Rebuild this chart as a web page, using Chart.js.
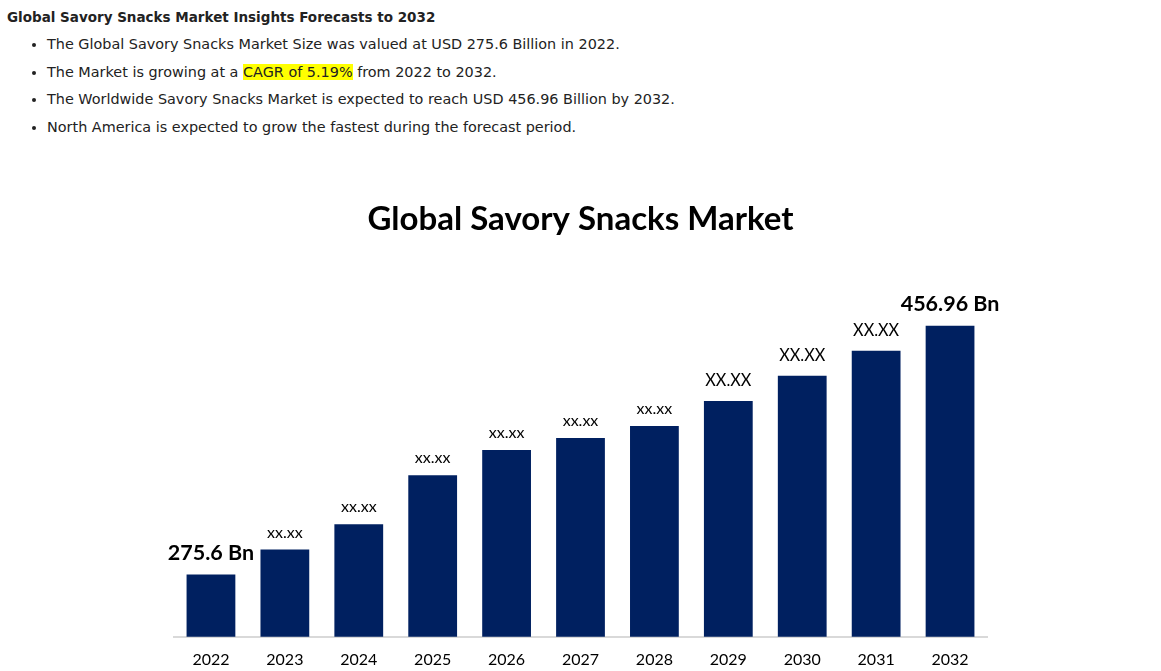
<!DOCTYPE html>
<html>
<head>
<meta charset="utf-8">
<script src="https://cdn.jsdelivr.net/npm/chart.js@4.4.0/dist/chart.umd.min.js"></script>
<style>
    body {
        margin: 0;
        background: #fff;
        font-family: "DejaVu Sans", sans-serif;
        color: #222;
        overflow: hidden;
    }
    .intro {
        position: absolute;
        left: 7px;
        top: 8px;
    }
    .intro h4 {
        margin: 0;
        font-size: 13.5px;
        font-weight: bold;
        line-height: 18px;
    }
    .intro ul {
        margin: 5px 0 0 0;
        padding-left: 40px;
        font-size: 14.4px;
    }
    .intro li {
        line-height: 27.5px;
    }
    .hl {
        background: #ffff00;
    }
    #wrap {
        position: absolute;
        left: 0;
        top: 180px;
        width: 1161px;
        height: 505px;
    }
</style>
</head>
<body>
<div class="intro">
    <h4>Global Savory Snacks Market Insights Forecasts to 2032</h4>
    <ul>
        <li>The Global Savory Snacks Market Size was valued at USD 275.6 Billion in 2022.</li>
        <li>The Market is growing at a <span class="hl">CAGR of 5.19%</span> from 2022 to 2032.</li>
        <li>The Worldwide Savory Snacks Market is expected to reach USD 456.96 Billion by 2032.</li>
        <li>North America is expected to grow the fastest during the forecast period.</li>
    </ul>
</div>
<div id="wrap"><canvas id="myChart"></canvas></div>
<script>
// market size, USD billion (only first and last are given, the rest)
const years = ['2022', '2023', '2024', '2025', '2026', '2027', '2028', '2029', '2030', '2031', '2032'];
const marketSize = [275.6, 293.9, 312.2, 348.0, 366.3, 375.1, 383.8, 402.1, 420.4, 438.7, 456.96];
const barLabels = ['275.6 Bn', 'xx.xx', 'xx.xx', 'xx.xx', 'xx.xx', 'xx.xx', 'xx.xx', 'XX.XX', 'XX.XX', 'XX.XX', '456.96 Bn'];

// draws the text above each bar
const barLabelPlugin = {
    id: 'barLabels',
    afterDatasetsDraw(chart) {
        const ctx = chart.ctx;
        const meta = chart.getDatasetMeta(0);
        ctx.save();
        ctx.fillStyle = '#000';
        ctx.textAlign = 'center';
        ctx.textBaseline = 'bottom';
        meta.data.forEach((bar, i) => {
            let txt = barLabels[i];
            let gap = 9;
            if (txt.endsWith('Bn')) {
                ctx.font = 'bold 21.5px Lato';
                gap = 11;
            } else if (txt === txt.toUpperCase()) {
                ctx.font = '16.3px Lato';
                gap = 12;
            } else {
                ctx.font = '16px Lato';
            }
            ctx.fillText(txt, bar.x, bar.y - gap);
        });
        ctx.restore();
    }
};

const ctx = document.getElementById('myChart').getContext('2d');
const myChart = new Chart(ctx, {
    type: 'bar',
    data: {
        labels: years,
        datasets: [{
            data: marketSize,
            backgroundColor: '#002060',
            borderWidth: 0,
            categoryPercentage: 1,
            barPercentage: 0.66
        }]
    },
    options: {
        responsive: true,
        maintainAspectRatio: false,
        animation: false,
        layout: {
            padding: {
                left: 174,
                right: 174,
                top: 0,
                bottom: 3
            }
        },
        plugins: {
            legend: { display: false },
            tooltip: { enabled: false },
            title: {
                display: true,
                text: 'Global Savory Snacks Market',
                color: '#000',
                font: { family: 'Lato', size: 33, weight: 'bold' },
                padding: { top: 20, bottom: 27 }
            }
        },
        scales: {
            x: {
                grid: { display: false, drawTicks: false },
                border: { display: true, color: '#d9d9d9', width: 2 },
                ticks: {
                    color: '#000',
                    font: { family: 'Lato', size: 16 },
                    padding: 13
                }
            },
            y: {
                display: false,
                min: 230.26,
                max: 500
            }
        }
    },
    plugins: [barLabelPlugin]
});
</script>
</body>
</html>
